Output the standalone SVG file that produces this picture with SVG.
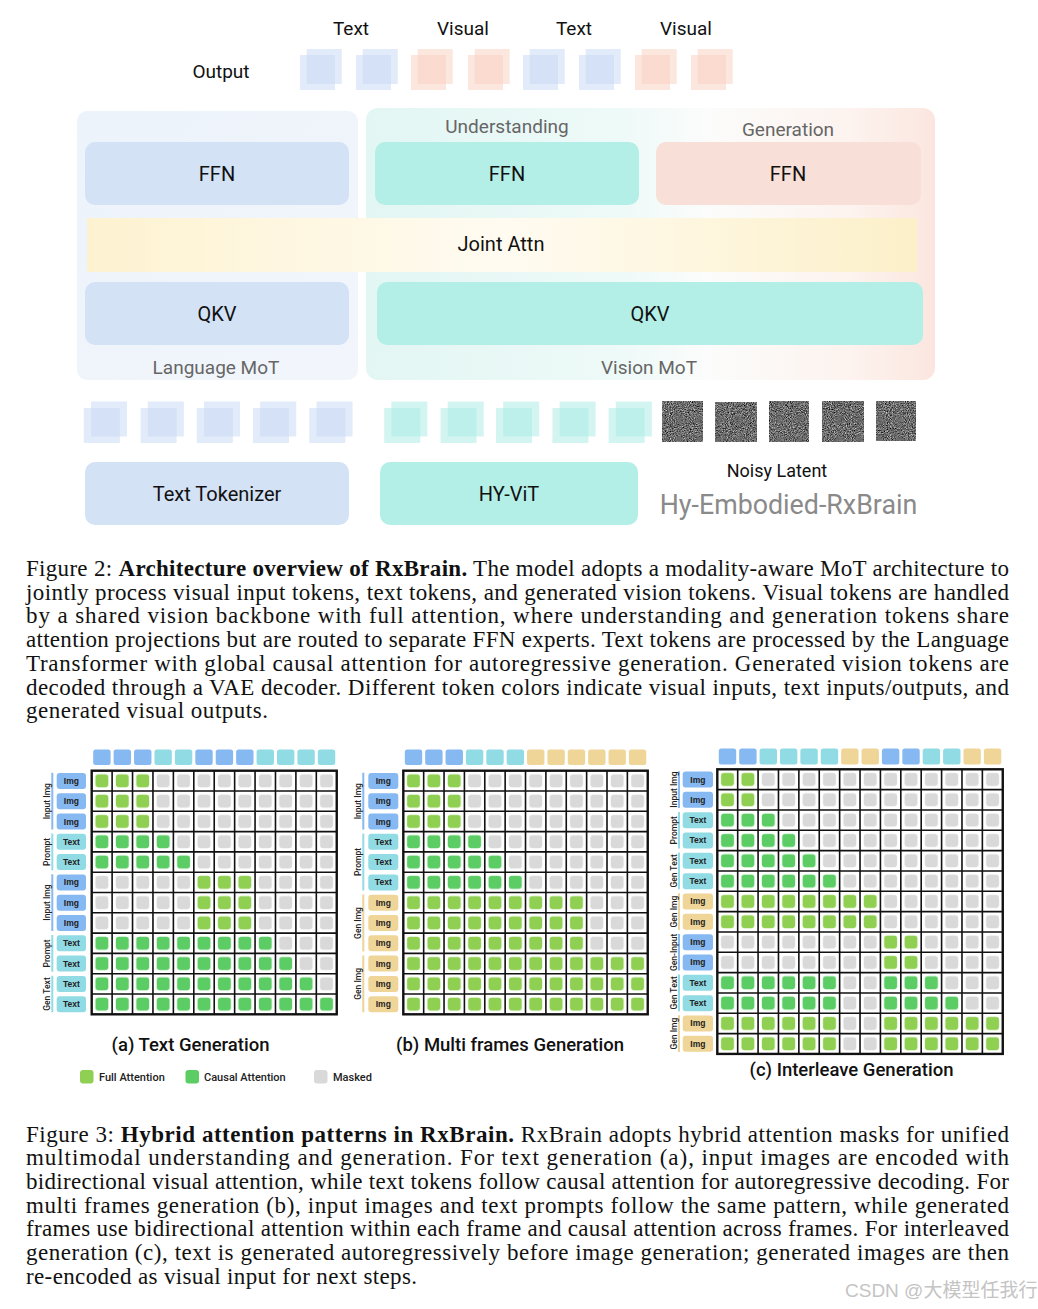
<svg xmlns="http://www.w3.org/2000/svg" width="1038" height="1309" viewBox="0 0 1038 1309">
<style>
.sans{font-family:Roboto,"Liberation Sans",sans-serif}
.lbl{font-family:Roboto,"Liberation Sans",sans-serif;font-size:20px;fill:#111;text-anchor:middle}
.sub{font-family:Roboto,"Liberation Sans",sans-serif;font-size:19px;fill:#666;text-anchor:middle}
.cap{font-family:"Liberation Serif","Times New Roman",serif;font-size:23px;fill:#111}
.tb{fill:#c5d8f3;opacity:.5}
.tr{fill:#f9cfc0;opacity:.5}
.tc{fill:#a8ece3;opacity:.5}
.hb{fill:#86b8f1}.hc{fill:#90dbe4}.ht{fill:#efd698}
.rl{font-family:"Liberation Sans",Arial,sans-serif;font-size:8.5px;font-weight:bold;fill:#222;text-anchor:middle}
.gl{font-family:Roboto,"Liberation Sans",sans-serif;font-size:8.5px;font-weight:500;fill:#222;text-anchor:middle}
.grid{fill:none;stroke:#111;stroke-width:1.6}
.out{fill:none;stroke:#111;stroke-width:2.4}
.bb{stroke:#8ab9ef;stroke-width:2}.bc{stroke:#94dbe3;stroke-width:2}.bt{stroke:#ecd49a;stroke-width:2}
.ttl{font-family:Roboto,"Liberation Sans",sans-serif;font-size:18.5px;font-weight:500;fill:#111;text-anchor:middle}
.leg{font-family:Roboto,"Liberation Sans",sans-serif;font-size:11px;font-weight:500;fill:#222}
</style>
<defs>
<linearGradient id="gVis" x1="0" y1="0" x2="1" y2="0">
<stop offset="0" stop-color="#e2f6f3"/><stop offset="0.45" stop-color="#eefaf8"/><stop offset="0.6" stop-color="#fbfcfb"/><stop offset="0.85" stop-color="#fdf3ef"/><stop offset="1" stop-color="#fbe6df"/>
</linearGradient>
<linearGradient id="gLang" x1="0" y1="0" x2="1" y2="1">
<stop offset="0" stop-color="#edf3fb"/><stop offset="1" stop-color="#f2f6fc"/>
</linearGradient>
<linearGradient id="gJoint" x1="0" y1="0" x2="1" y2="0">
<stop offset="0" stop-color="#fdf2d0"/><stop offset="0.5" stop-color="#fffbf1"/><stop offset="1" stop-color="#fcf0c9"/>
</linearGradient>
<filter id="noise" x="0" y="0" width="100%" height="100%" color-interpolation-filters="sRGB">
<feTurbulence type="fractalNoise" baseFrequency="0.95" numOctaves="2" seed="7"/>
<feColorMatrix type="matrix" values="0.33 0.33 0.33 0 0 0.33 0.33 0.33 0 0 0.33 0.33 0.33 0 0 0 0 0 0 1"/>
<feComponentTransfer><feFuncR type="linear" slope="1.9" intercept="-0.52"/><feFuncG type="linear" slope="1.9" intercept="-0.52"/><feFuncB type="linear" slope="1.9" intercept="-0.52"/></feComponentTransfer>
</filter>
<pattern id="aF" patternUnits="userSpaceOnUse" x="91.7" y="770.7" width="20.42" height="20.3"><rect x="3.7" y="3.65" width="13" height="13" rx="3" fill="#8fcf52"/></pattern>
<pattern id="aC" patternUnits="userSpaceOnUse" x="91.7" y="770.7" width="20.42" height="20.3"><rect x="3.7" y="3.65" width="13" height="13" rx="3" fill="#5ccc64"/></pattern>
<pattern id="aM" patternUnits="userSpaceOnUse" x="91.7" y="770.7" width="20.42" height="20.3"><rect x="3.7" y="3.65" width="13" height="13" rx="3" fill="#d9d9d9"/></pattern>
<pattern id="bF" patternUnits="userSpaceOnUse" x="403.3" y="770.7" width="20.37" height="20.3"><rect x="3.7" y="3.65" width="13" height="13" rx="3" fill="#8fcf52"/></pattern>
<pattern id="bC" patternUnits="userSpaceOnUse" x="403.3" y="770.7" width="20.37" height="20.3"><rect x="3.7" y="3.65" width="13" height="13" rx="3" fill="#5ccc64"/></pattern>
<pattern id="bM" patternUnits="userSpaceOnUse" x="403.3" y="770.7" width="20.37" height="20.3"><rect x="3.7" y="3.65" width="13" height="13" rx="3" fill="#d9d9d9"/></pattern>
<pattern id="cF" patternUnits="userSpaceOnUse" x="717.3" y="769.3" width="20.39" height="20.33"><rect x="3.7" y="3.67" width="13" height="13" rx="3" fill="#8fcf52"/></pattern>
<pattern id="cC" patternUnits="userSpaceOnUse" x="717.3" y="769.3" width="20.39" height="20.33"><rect x="3.7" y="3.67" width="13" height="13" rx="3" fill="#5ccc64"/></pattern>
<pattern id="cM" patternUnits="userSpaceOnUse" x="717.3" y="769.3" width="20.39" height="20.33"><rect x="3.7" y="3.67" width="13" height="13" rx="3" fill="#d9d9d9"/></pattern>
</defs>
<rect width="1038" height="1309" fill="#fff"/>

<!-- ===== Figure 2: architecture ===== -->
<g id="output-tokens">
<text class="sans" x="221" y="78" font-size="19" fill="#111" text-anchor="middle">Output</text>
<text class="sans" x="351" y="35" font-size="19" fill="#111" text-anchor="middle">Text</text>
<text class="sans" x="463" y="35" font-size="19" fill="#111" text-anchor="middle">Visual</text>
<text class="sans" x="574" y="35" font-size="19" fill="#111" text-anchor="middle">Text</text>
<text class="sans" x="686" y="35" font-size="19" fill="#111" text-anchor="middle">Visual</text>
<rect class="tb" x="306.7" y="49" width="35" height="35"/><rect class="tb" x="300" y="55" width="35" height="35"/>
<rect class="tb" x="362.7" y="49" width="35" height="35"/><rect class="tb" x="356" y="55" width="35" height="35"/>
<rect class="tr" x="417.7" y="49" width="35" height="35"/><rect class="tr" x="411" y="55" width="35" height="35"/>
<rect class="tr" x="474.7" y="49" width="35" height="35"/><rect class="tr" x="468" y="55" width="35" height="35"/>
<rect class="tb" x="529.7" y="49" width="35" height="35"/><rect class="tb" x="523" y="55" width="35" height="35"/>
<rect class="tb" x="585.7" y="49" width="35" height="35"/><rect class="tb" x="579" y="55" width="35" height="35"/>
<rect class="tr" x="641.7" y="49" width="35" height="35"/><rect class="tr" x="635" y="55" width="35" height="35"/>
<rect class="tr" x="697.7" y="49" width="35" height="35"/><rect class="tr" x="691" y="55" width="35" height="35"/>
</g>

<g id="language-mot">
<rect x="77" y="111" width="281" height="269" rx="10" fill="url(#gLang)"/>
<text class="sub" x="216" y="374">Language MoT</text>
</g>
<g id="vision-mot">
<rect x="366" y="108" width="569" height="272" rx="12" fill="url(#gVis)"/>
<text class="sub" x="649" y="374">Vision MoT</text>
<text class="sub" x="507" y="133">Understanding</text>
<text class="sub" x="788" y="136">Generation</text>
</g>
<g id="ffn-language"><rect x="85" y="142" width="264" height="63" rx="10" fill="#d3e2f5"/><text class="lbl" x="217" y="181">FFN</text></g>
<g id="ffn-understanding"><rect x="375" y="142" width="264" height="63" rx="10" fill="#b4efe7"/><text class="lbl" x="507" y="181">FFN</text></g>
<g id="ffn-generation"><rect x="656" y="142" width="265" height="63" rx="10" fill="#f8dfd7"/><text class="lbl" x="788" y="181">FFN</text></g>
<g id="joint-attn"><rect x="87" y="218" width="830" height="54" fill="url(#gJoint)"/><text class="lbl" x="501" y="251">Joint Attn</text></g>
<g id="qkv-language"><rect x="85" y="282" width="264" height="63" rx="10" fill="#d3e2f5"/><text class="lbl" x="217" y="321">QKV</text></g>
<g id="qkv-vision"><rect x="377" y="282" width="546" height="63" rx="10" fill="#b4efe7"/><text class="lbl" x="650" y="321">QKV</text></g>

<g id="input-tokens">
<rect class="tb" x="91" y="401.5" width="36" height="35"/><rect class="tb" x="83.8" y="408" width="36" height="35"/>
<rect class="tb" x="147.8" y="401.5" width="36" height="35"/><rect class="tb" x="140.6" y="408" width="36" height="35"/>
<rect class="tb" x="204" y="401.5" width="36" height="35"/><rect class="tb" x="196.8" y="408" width="36" height="35"/>
<rect class="tb" x="260.2" y="401.5" width="36" height="35"/><rect class="tb" x="253" y="408" width="36" height="35"/>
<rect class="tb" x="316.5" y="401.5" width="36" height="35"/><rect class="tb" x="309.3" y="408" width="36" height="35"/>
<rect class="tc" x="391.4" y="401.5" width="36" height="35"/><rect class="tc" x="384.2" y="408" width="36" height="35"/>
<rect class="tc" x="447.7" y="401.5" width="36" height="35"/><rect class="tc" x="440.5" y="408" width="36" height="35"/>
<rect class="tc" x="503.2" y="401.5" width="36" height="35"/><rect class="tc" x="496" y="408" width="36" height="35"/>
<rect class="tc" x="559.6" y="401.5" width="36" height="35"/><rect class="tc" x="552.4" y="408" width="36" height="35"/>
<rect class="tc" x="615.8" y="401.5" width="36" height="35"/><rect class="tc" x="608.6" y="408" width="36" height="35"/>
<rect x="662" y="401" width="41" height="41" filter="url(#noise)"/>
<rect x="715.5" y="402" width="41" height="40" filter="url(#noise)"/>
<rect x="769" y="401" width="40" height="41" filter="url(#noise)"/>
<rect x="822.5" y="401" width="41" height="41" filter="url(#noise)"/>
<rect x="876" y="401" width="40" height="40" filter="url(#noise)"/>
</g>
<g id="text-tokenizer"><rect x="85" y="462" width="264" height="63" rx="10" fill="#d3e2f5"/><text class="lbl" x="217" y="501">Text Tokenizer</text></g>
<g id="hy-vit"><rect x="380" y="462" width="258" height="63" rx="10" fill="#b4efe7"/><text class="lbl" x="509" y="501">HY-ViT</text></g>
<g id="noisy-latent"><text class="sans" x="777" y="477" font-size="18" fill="#111" text-anchor="middle">Noisy Latent</text></g>
<g id="brand"><text class="sans" x="788.5" y="514" font-size="26.8" fill="#8a8a8a" text-anchor="middle">Hy-Embodied-RxBrain</text></g>
<g id="connectors"/>

<g id="caption-fig2" class="cap">
<text x="26" y="576" textLength="983" lengthAdjust="spacing">Figure 2: <tspan font-weight="bold">Architecture overview of RxBrain.</tspan> The model adopts a modality-aware MoT architecture to</text>
<text x="26" y="599.7" textLength="983" lengthAdjust="spacing">jointly process visual input tokens, text tokens, and generated vision tokens. Visual tokens are handled</text>
<text x="26" y="623.4" textLength="983" lengthAdjust="spacing">by a shared vision backbone with full attention, where understanding and generation tokens share</text>
<text x="26" y="647.1" textLength="983" lengthAdjust="spacing">attention projections but are routed to separate FFN experts. Text tokens are processed by the Language</text>
<text x="26" y="670.8" textLength="983" lengthAdjust="spacing">Transformer with global causal attention for autoregressive generation.  Generated vision tokens are</text>
<text x="26" y="694.5" textLength="983" lengthAdjust="spacing">decoded through a VAE decoder. Different token colors indicate visual inputs, text inputs/outputs, and</text>
<text x="26" y="718.2" textLength="242" lengthAdjust="spacing">generated visual outputs.</text>
</g>

<!-- ===== Figure 3: attention masks ===== -->
<g id="mask-a">
<rect class="hb" x="93.2" y="749.5" width="17.4" height="15.5" rx="2.5"/><rect class="hb" x="113.62" y="749.5" width="17.4" height="15.5" rx="2.5"/><rect class="hb" x="134.04" y="749.5" width="17.4" height="15.5" rx="2.5"/>
<rect class="hc" x="154.46" y="749.5" width="17.4" height="15.5" rx="2.5"/><rect class="hc" x="174.88" y="749.5" width="17.4" height="15.5" rx="2.5"/>
<rect class="hb" x="195.3" y="749.5" width="17.4" height="15.5" rx="2.5"/><rect class="hb" x="215.72" y="749.5" width="17.4" height="15.5" rx="2.5"/><rect class="hb" x="236.14" y="749.5" width="17.4" height="15.5" rx="2.5"/>
<rect class="hc" x="256.56" y="749.5" width="17.4" height="15.5" rx="2.5"/><rect class="hc" x="276.98" y="749.5" width="17.4" height="15.5" rx="2.5"/><rect class="hc" x="297.4" y="749.5" width="17.4" height="15.5" rx="2.5"/><rect class="hc" x="317.82" y="749.5" width="17.4" height="15.5" rx="2.5"/>
<rect x="91.7" y="770.7" width="61.26" height="60.9" fill="url(#aF)"/><rect x="152.96" y="770.7" width="183.78" height="60.9" fill="url(#aM)"/>
<rect x="91.7" y="831.6" width="81.68" height="20.3" fill="url(#aC)"/><rect x="173.38" y="831.6" width="163.36" height="20.3" fill="url(#aM)"/>
<rect x="91.7" y="851.9" width="102.1" height="20.3" fill="url(#aC)"/><rect x="193.8" y="851.9" width="142.94" height="20.3" fill="url(#aM)"/>
<rect x="91.7" y="872.2" width="102.1" height="60.9" fill="url(#aM)"/><rect x="193.8" y="872.2" width="61.26" height="60.9" fill="url(#aF)"/><rect x="255.06" y="872.2" width="81.68" height="60.9" fill="url(#aM)"/>
<rect x="91.7" y="933.1" width="183.78" height="20.3" fill="url(#aC)"/><rect x="275.48" y="933.1" width="61.26" height="20.3" fill="url(#aM)"/>
<rect x="91.7" y="953.4" width="204.2" height="20.3" fill="url(#aC)"/><rect x="295.9" y="953.4" width="40.84" height="20.3" fill="url(#aM)"/>
<rect x="91.7" y="973.7" width="224.62" height="20.3" fill="url(#aC)"/><rect x="316.32" y="973.7" width="20.42" height="20.3" fill="url(#aM)"/>
<rect x="91.7" y="994" width="245.04" height="20.3" fill="url(#aC)"/>
<path class="grid" d="M112.12 770.7V1014.3M132.54 770.7V1014.3M152.96 770.7V1014.3M173.38 770.7V1014.3M193.8 770.7V1014.3M214.22 770.7V1014.3M234.64 770.7V1014.3M255.06 770.7V1014.3M275.48 770.7V1014.3M295.9 770.7V1014.3M316.32 770.7V1014.3M91.7 791H336.74M91.7 811.3H336.74M91.7 831.6H336.74M91.7 851.9H336.74M91.7 872.2H336.74M91.7 892.5H336.74M91.7 912.8H336.74M91.7 933.1H336.74M91.7 953.4H336.74M91.7 973.7H336.74M91.7 994H336.74"/>
<rect class="out" x="91.7" y="770.7" width="245.04" height="243.6"/>
<g>
<rect class="hb" x="56.7" y="772.9" width="29.3" height="16" rx="3"/><text class="rl" x="71.35" y="783.9">Img</text>
<rect class="hb" x="56.7" y="793.2" width="29.3" height="16" rx="3"/><text class="rl" x="71.35" y="804.2">Img</text>
<rect class="hb" x="56.7" y="813.5" width="29.3" height="16" rx="3"/><text class="rl" x="71.35" y="824.5">Img</text>
<rect class="hc" x="56.7" y="833.8" width="29.3" height="16" rx="3"/><text class="rl" x="71.35" y="844.8">Text</text>
<rect class="hc" x="56.7" y="854.1" width="29.3" height="16" rx="3"/><text class="rl" x="71.35" y="865.1">Text</text>
<rect class="hb" x="56.7" y="874.4" width="29.3" height="16" rx="3"/><text class="rl" x="71.35" y="885.4">Img</text>
<rect class="hb" x="56.7" y="894.7" width="29.3" height="16" rx="3"/><text class="rl" x="71.35" y="905.7">Img</text>
<rect class="hb" x="56.7" y="915" width="29.3" height="16" rx="3"/><text class="rl" x="71.35" y="926">Img</text>
<rect class="hc" x="56.7" y="935.3" width="29.3" height="16" rx="3"/><text class="rl" x="71.35" y="946.3">Text</text>
<rect class="hc" x="56.7" y="955.6" width="29.3" height="16" rx="3"/><text class="rl" x="71.35" y="966.6">Text</text>
<rect class="hc" x="56.7" y="975.9" width="29.3" height="16" rx="3"/><text class="rl" x="71.35" y="986.9">Text</text>
<rect class="hc" x="56.7" y="996.2" width="29.3" height="16" rx="3"/><text class="rl" x="71.35" y="1007.2">Text</text>
</g>
<path class="bb" d="M52.3 772.7V829.6M52.3 874.2V931.1"/>
<path class="bc" d="M52.3 833.6V870.2M52.3 935.1V971.7M52.3 975.7V1012.3"/>
<text class="gl" transform="translate(49.5 801.2) rotate(-90)">Input Img</text>
<text class="gl" transform="translate(49.5 851.9) rotate(-90)">Prompt</text>
<text class="gl" transform="translate(49.5 902.6) rotate(-90)">Input Img</text>
<text class="gl" transform="translate(49.5 953.4) rotate(-90)">Prompt</text>
<text class="gl" transform="translate(49.5 994) rotate(-90)">Gen Text</text>
<text class="ttl" x="190.5" y="1050.5">(a) Text Generation</text>
</g>

<g id="mask-b">
<rect class="hb" x="404.8" y="749.5" width="17.4" height="15.5" rx="2.5"/><rect class="hb" x="425.17" y="749.5" width="17.4" height="15.5" rx="2.5"/><rect class="hb" x="445.54" y="749.5" width="17.4" height="15.5" rx="2.5"/>
<rect class="hc" x="465.91" y="749.5" width="17.4" height="15.5" rx="2.5"/><rect class="hc" x="486.28" y="749.5" width="17.4" height="15.5" rx="2.5"/><rect class="hc" x="506.65" y="749.5" width="17.4" height="15.5" rx="2.5"/>
<rect class="ht" x="527.02" y="749.5" width="17.4" height="15.5" rx="2.5"/><rect class="ht" x="547.39" y="749.5" width="17.4" height="15.5" rx="2.5"/><rect class="ht" x="567.76" y="749.5" width="17.4" height="15.5" rx="2.5"/><rect class="ht" x="588.13" y="749.5" width="17.4" height="15.5" rx="2.5"/><rect class="ht" x="608.5" y="749.5" width="17.4" height="15.5" rx="2.5"/><rect class="ht" x="628.87" y="749.5" width="17.4" height="15.5" rx="2.5"/>
<rect x="403.3" y="770.7" width="61.11" height="60.9" fill="url(#bF)"/><rect x="464.41" y="770.7" width="183.33" height="60.9" fill="url(#bM)"/>
<rect x="403.3" y="831.6" width="81.48" height="20.3" fill="url(#bC)"/><rect x="484.78" y="831.6" width="162.96" height="20.3" fill="url(#bM)"/>
<rect x="403.3" y="851.9" width="101.85" height="20.3" fill="url(#bC)"/><rect x="505.15" y="851.9" width="142.59" height="20.3" fill="url(#bM)"/>
<rect x="403.3" y="872.2" width="122.22" height="20.3" fill="url(#bC)"/><rect x="525.52" y="872.2" width="122.22" height="20.3" fill="url(#bM)"/>
<rect x="403.3" y="892.5" width="183.33" height="60.9" fill="url(#bF)"/><rect x="586.63" y="892.5" width="61.11" height="60.9" fill="url(#bM)"/>
<rect x="403.3" y="953.4" width="244.44" height="60.9" fill="url(#bF)"/>
<path class="grid" d="M423.67 770.7V1014.3M444.04 770.7V1014.3M464.41 770.7V1014.3M484.78 770.7V1014.3M505.15 770.7V1014.3M525.52 770.7V1014.3M545.89 770.7V1014.3M566.26 770.7V1014.3M586.63 770.7V1014.3M607 770.7V1014.3M627.37 770.7V1014.3M403.3 791H647.74M403.3 811.3H647.74M403.3 831.6H647.74M403.3 851.9H647.74M403.3 872.2H647.74M403.3 892.5H647.74M403.3 912.8H647.74M403.3 933.1H647.74M403.3 953.4H647.74M403.3 973.7H647.74M403.3 994H647.74"/>
<rect class="out" x="403.3" y="770.7" width="244.44" height="243.6"/>
<g>
<rect class="hb" x="368.3" y="772.9" width="30" height="16" rx="3"/><text class="rl" x="383.3" y="783.9">Img</text>
<rect class="hb" x="368.3" y="793.2" width="30" height="16" rx="3"/><text class="rl" x="383.3" y="804.2">Img</text>
<rect class="hb" x="368.3" y="813.5" width="30" height="16" rx="3"/><text class="rl" x="383.3" y="824.5">Img</text>
<rect class="hc" x="368.3" y="833.8" width="30" height="16" rx="3"/><text class="rl" x="383.3" y="844.8">Text</text>
<rect class="hc" x="368.3" y="854.1" width="30" height="16" rx="3"/><text class="rl" x="383.3" y="865.1">Text</text>
<rect class="hc" x="368.3" y="874.4" width="30" height="16" rx="3"/><text class="rl" x="383.3" y="885.4">Text</text>
<rect class="ht" x="368.3" y="894.7" width="30" height="16" rx="3"/><text class="rl" x="383.3" y="905.7">Img</text>
<rect class="ht" x="368.3" y="915" width="30" height="16" rx="3"/><text class="rl" x="383.3" y="926">Img</text>
<rect class="ht" x="368.3" y="935.3" width="30" height="16" rx="3"/><text class="rl" x="383.3" y="946.3">Img</text>
<rect class="ht" x="368.3" y="955.6" width="30" height="16" rx="3"/><text class="rl" x="383.3" y="966.6">Img</text>
<rect class="ht" x="368.3" y="975.9" width="30" height="16" rx="3"/><text class="rl" x="383.3" y="986.9">Img</text>
<rect class="ht" x="368.3" y="996.2" width="30" height="16" rx="3"/><text class="rl" x="383.3" y="1007.2">Img</text>
</g>
<path class="bb" d="M363.3 772.7V829.6"/>
<path class="bc" d="M363.3 833.6V890.5"/>
<path class="bt" d="M363.3 894.5V951.4M363.3 955.4V1012.3"/>
<text class="gl" transform="translate(361 801.2) rotate(-90)">Input Img</text>
<text class="gl" transform="translate(361 862) rotate(-90)">Prompt</text>
<text class="gl" transform="translate(361 923) rotate(-90)">Gen Img</text>
<text class="gl" transform="translate(361 983.9) rotate(-90)">Gen Img</text>
<text class="ttl" x="510" y="1050.5">(b) Multi frames Generation</text>
</g>

<g id="mask-c">
<rect class="hb" x="718.8" y="748.5" width="17.4" height="16" rx="2.5"/><rect class="hb" x="739.19" y="748.5" width="17.4" height="16" rx="2.5"/>
<rect class="hc" x="759.58" y="748.5" width="17.4" height="16" rx="2.5"/><rect class="hc" x="779.97" y="748.5" width="17.4" height="16" rx="2.5"/><rect class="hc" x="800.36" y="748.5" width="17.4" height="16" rx="2.5"/><rect class="hc" x="820.75" y="748.5" width="17.4" height="16" rx="2.5"/>
<rect class="ht" x="841.14" y="748.5" width="17.4" height="16" rx="2.5"/><rect class="ht" x="861.53" y="748.5" width="17.4" height="16" rx="2.5"/>
<rect class="hb" x="881.92" y="748.5" width="17.4" height="16" rx="2.5"/><rect class="hb" x="902.31" y="748.5" width="17.4" height="16" rx="2.5"/>
<rect class="hc" x="922.7" y="748.5" width="17.4" height="16" rx="2.5"/><rect class="hc" x="943.09" y="748.5" width="17.4" height="16" rx="2.5"/>
<rect class="ht" x="963.48" y="748.5" width="17.4" height="16" rx="2.5"/><rect class="ht" x="983.87" y="748.5" width="17.4" height="16" rx="2.5"/>
<rect x="717.3" y="769.3" width="40.78" height="40.66" fill="url(#cF)"/><rect x="758.08" y="769.3" width="244.68" height="40.66" fill="url(#cM)"/>
<rect x="717.3" y="809.96" width="61.17" height="20.33" fill="url(#cC)"/><rect x="778.47" y="809.96" width="224.29" height="20.33" fill="url(#cM)"/>
<rect x="717.3" y="830.29" width="81.56" height="20.33" fill="url(#cC)"/><rect x="798.86" y="830.29" width="203.9" height="20.33" fill="url(#cM)"/>
<rect x="717.3" y="850.62" width="101.95" height="20.33" fill="url(#cC)"/><rect x="819.25" y="850.62" width="183.51" height="20.33" fill="url(#cM)"/>
<rect x="717.3" y="870.95" width="122.34" height="20.33" fill="url(#cC)"/><rect x="839.64" y="870.95" width="163.12" height="20.33" fill="url(#cM)"/>
<rect x="717.3" y="891.28" width="163.12" height="40.66" fill="url(#cF)"/><rect x="880.42" y="891.28" width="122.34" height="40.66" fill="url(#cM)"/>
<rect x="717.3" y="931.94" width="163.12" height="40.66" fill="url(#cM)"/><rect x="880.42" y="931.94" width="40.78" height="40.66" fill="url(#cF)"/><rect x="921.2" y="931.94" width="81.56" height="40.66" fill="url(#cM)"/>
<rect x="717.3" y="972.6" width="122.34" height="20.33" fill="url(#cC)"/><rect x="839.64" y="972.6" width="40.78" height="20.33" fill="url(#cM)"/><rect x="880.42" y="972.6" width="61.17" height="20.33" fill="url(#cC)"/><rect x="941.59" y="972.6" width="61.17" height="20.33" fill="url(#cM)"/>
<rect x="717.3" y="992.93" width="122.34" height="20.33" fill="url(#cC)"/><rect x="839.64" y="992.93" width="40.78" height="20.33" fill="url(#cM)"/><rect x="880.42" y="992.93" width="81.56" height="20.33" fill="url(#cC)"/><rect x="961.98" y="992.93" width="40.78" height="20.33" fill="url(#cM)"/>
<rect x="717.3" y="1013.26" width="122.34" height="40.66" fill="url(#cF)"/><rect x="839.64" y="1013.26" width="40.78" height="40.66" fill="url(#cM)"/><rect x="880.42" y="1013.26" width="122.34" height="40.66" fill="url(#cF)"/>
<path class="grid" d="M737.69 769.3V1053.92M758.08 769.3V1053.92M778.47 769.3V1053.92M798.86 769.3V1053.92M819.25 769.3V1053.92M839.64 769.3V1053.92M860.03 769.3V1053.92M880.42 769.3V1053.92M900.81 769.3V1053.92M921.2 769.3V1053.92M941.59 769.3V1053.92M961.98 769.3V1053.92M982.37 769.3V1053.92M717.3 789.63H1002.76M717.3 809.96H1002.76M717.3 830.29H1002.76M717.3 850.62H1002.76M717.3 870.95H1002.76M717.3 891.28H1002.76M717.3 911.61H1002.76M717.3 931.94H1002.76M717.3 952.27H1002.76M717.3 972.6H1002.76M717.3 992.93H1002.76M717.3 1013.26H1002.76M717.3 1033.59H1002.76"/>
<rect class="out" x="717.3" y="769.3" width="285.46" height="284.62"/>
<g>
<rect class="hb" x="682.7" y="771.5" width="30.3" height="16" rx="3"/><text class="rl" x="697.85" y="782.5">Img</text>
<rect class="hb" x="682.7" y="791.83" width="30.3" height="16" rx="3"/><text class="rl" x="697.85" y="802.83">Img</text>
<rect class="hc" x="682.7" y="812.16" width="30.3" height="16" rx="3"/><text class="rl" x="697.85" y="823.16">Text</text>
<rect class="hc" x="682.7" y="832.49" width="30.3" height="16" rx="3"/><text class="rl" x="697.85" y="843.49">Text</text>
<rect class="hc" x="682.7" y="852.82" width="30.3" height="16" rx="3"/><text class="rl" x="697.85" y="863.82">Text</text>
<rect class="hc" x="682.7" y="873.15" width="30.3" height="16" rx="3"/><text class="rl" x="697.85" y="884.15">Text</text>
<rect class="ht" x="682.7" y="893.48" width="30.3" height="16" rx="3"/><text class="rl" x="697.85" y="904.48">Img</text>
<rect class="ht" x="682.7" y="913.81" width="30.3" height="16" rx="3"/><text class="rl" x="697.85" y="924.81">Img</text>
<rect class="hb" x="682.7" y="934.14" width="30.3" height="16" rx="3"/><text class="rl" x="697.85" y="945.14">Img</text>
<rect class="hb" x="682.7" y="954.47" width="30.3" height="16" rx="3"/><text class="rl" x="697.85" y="965.47">Img</text>
<rect class="hc" x="682.7" y="974.8" width="30.3" height="16" rx="3"/><text class="rl" x="697.85" y="985.8">Text</text>
<rect class="hc" x="682.7" y="995.13" width="30.3" height="16" rx="3"/><text class="rl" x="697.85" y="1006.13">Text</text>
<rect class="ht" x="682.7" y="1015.46" width="30.3" height="16" rx="3"/><text class="rl" x="697.85" y="1026.46">Img</text>
<rect class="ht" x="682.7" y="1035.79" width="30.3" height="16" rx="3"/><text class="rl" x="697.85" y="1046.79">Img</text>
</g>
<path class="bb" d="M679 771.3V808M679 933.9V970.6"/>
<path class="bc" d="M679 812V848.6M679 852.6V889.3M679 974.6V1011.3"/>
<path class="bt" d="M679 893.3V929.9M679 1015.3V1051.9"/>
<text class="gl" transform="translate(676.5 789.6) rotate(-90)">Input Img</text>
<text class="gl" transform="translate(676.5 830.3) rotate(-90)">Prompt</text>
<text class="gl" transform="translate(676.5 870.9) rotate(-90)">Gen Text</text>
<text class="gl" transform="translate(676.5 911.6) rotate(-90)">Gen Img</text>
<text class="gl" transform="translate(676.5 952.3) rotate(-90)">Gen-Input</text>
<text class="gl" transform="translate(676.5 992.9) rotate(-90)">Gen Text</text>
<text class="gl" transform="translate(676.5 1033.6) rotate(-90)">Gen Img</text>
<text class="ttl" x="851.5" y="1076">(c) Interleave Generation</text>
</g>

<g id="legend">
<rect x="80" y="1070" width="13.5" height="13.5" rx="3" fill="#8fcf52"/><text class="leg" x="99" y="1080.5">Full Attention</text>
<rect x="185.5" y="1070" width="13.5" height="13.5" rx="3" fill="#5ccc64"/><text class="leg" x="204" y="1080.5">Causal Attention</text>
<rect x="314" y="1070" width="13.5" height="13.5" rx="3" fill="#d9d9d9"/><text class="leg" x="333" y="1080.5">Masked</text>
</g>

<g id="caption-fig3" class="cap">
<text x="26" y="1141.5" textLength="983" lengthAdjust="spacing">Figure 3: <tspan font-weight="bold">Hybrid attention patterns in RxBrain.</tspan> RxBrain adopts hybrid attention masks for unified</text>
<text x="26" y="1165.2" textLength="983" lengthAdjust="spacing">multimodal understanding and generation.  For text generation (a), input images are encoded with</text>
<text x="26" y="1188.9" textLength="983" lengthAdjust="spacing">bidirectional visual attention, while text tokens follow causal attention for autoregressive decoding. For</text>
<text x="26" y="1212.6" textLength="983" lengthAdjust="spacing">multi frames generation (b), input images and text prompts follow the same pattern, while generated</text>
<text x="26" y="1236.3" textLength="983" lengthAdjust="spacing">frames use bidirectional attention within each frame and causal attention across frames. For interleaved</text>
<text x="26" y="1260" textLength="983" lengthAdjust="spacing">generation (c), text is generated autoregressively before image generation; generated images are then</text>
<text x="26" y="1283.7" textLength="391" lengthAdjust="spacing">re-encoded as visual input for next steps.</text>
</g>

<g id="watermark"><text x="845" y="1297" font-family="'Liberation Sans','Noto Sans CJK SC',sans-serif" font-size="19" fill="#c4c4c4">CSDN @大模型任我行</text></g>
</svg>
